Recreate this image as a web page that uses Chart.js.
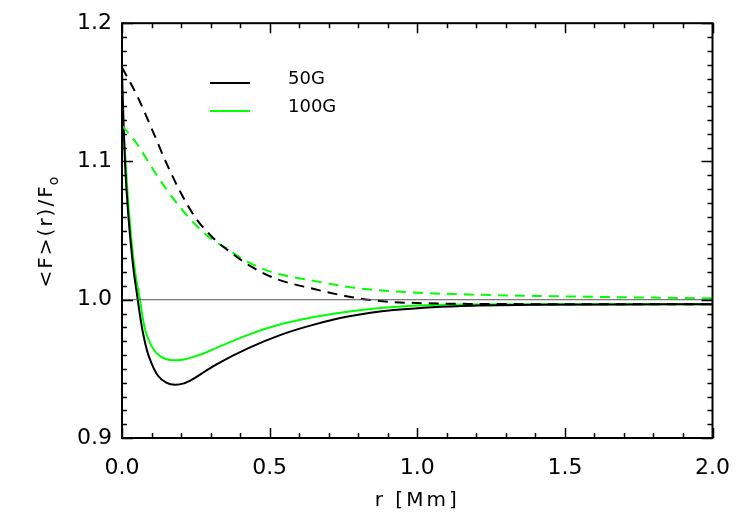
<!DOCTYPE html>
<html lang="en">
<head>
  <meta charset="UTF-8" />
  <title>&lt;F&gt;(r)/F0</title>
  <script src="https://cdn.jsdelivr.net/npm/chart.js"></script>
  <style>
    html, body { margin: 0; padding: 0; background: #fff; }
    #wrap { width: 747px; height: 524px; }
  </style>
</head>
<body>
<div id="wrap"><canvas id="grafico"></canvas></div>

<script>
  // valores: r [Mm] e <F>(r)/F0
  const r50 = [0, 0.005, 0.01, 0.02, 0.03, 0.04, 0.05, 0.06, 0.072, 0.085, 0.1, 0.122, 0.15, 0.18, 0.21, 0.24, 0.28, 0.32, 0.43, 0.54, 0.65, 0.77, 0.92, 1.15, 1.4, 1.7, 2.0];
  const f50 = [1.165, 1.13, 1.10, 1.065, 1.04, 1.02, 1.005, 0.99, 0.975, 0.963, 0.954, 0.945, 0.940, 0.9385, 0.9395, 0.9426, 0.948, 0.9533, 0.9652, 0.9748, 0.982, 0.988, 0.9925, 0.9955, 0.9963, 0.9966, 0.9967];

  const r100 = [0, 0.008, 0.019, 0.033, 0.046, 0.061, 0.07, 0.08, 0.1, 0.12, 0.15, 0.182, 0.21, 0.24, 0.28, 0.32, 0.43, 0.54, 0.65, 0.77, 0.92, 1.15, 1.5, 2.0];
  const f100 = [1.127, 1.113, 1.077, 1.041, 1.018, 1.0, 0.987, 0.977, 0.9665, 0.9607, 0.957, 0.9562, 0.9568, 0.9585, 0.9615, 0.9652, 0.9748, 0.9824, 0.9875, 0.9915, 0.9948, 0.9965, 0.9968, 0.9968];

  const r50Dash = [0, 0.05, 0.1, 0.15, 0.2, 0.25, 0.313, 0.37, 0.431, 0.521, 0.644, 0.79, 0.9, 1.04, 1.17, 1.5, 2.0];
  const f50Dash = [1.168, 1.148, 1.124, 1.099, 1.077, 1.059, 1.0438, 1.034, 1.0248, 1.0152, 1.0081, 1.0014, 0.9986, 0.9974, 0.997, 0.9968, 0.9968];

  const r100Dash = [0, 0.05, 0.1, 0.15, 0.2, 0.25, 0.3, 0.358, 0.408, 0.5, 0.633, 0.79, 0.946, 1.17, 1.45, 1.73, 2.0];
  const f100Dash = [1.126, 1.113, 1.096, 1.08, 1.066, 1.054, 1.0445, 1.0366, 1.0295, 1.0205, 1.0143, 1.0086, 1.0057, 1.0038, 1.0026, 1.0017, 1.001];

  const linhaRef = [1.0, 1.0];
  const rRef = [0, 2.0];

  const xTicks = [0, 0.5, 1.0, 1.5, 2.0];
  const yTicks = [0.9, 1.0, 1.1, 1.2];
  const xMinor = 0.1;
  const yMinor = 0.01;

  const legendaNomes = ['50G', '100G'];
  const legendaCores = ['#000000', '#00ff00'];

  function pontos(rs, fs) {
    return rs.map((r, i) => ({ x: r, y: fs[i] }));
  }

  const FONTE = '"DejaVu Sans", sans-serif';

  // moldura com marcas para dentro nos quatro lados, titulos e legenda
  const moldura = {
    id: 'moldura',
    afterDraw(chart) {
      const { ctx, chartArea: a, scales: { x, y } } = chart;
      ctx.save();
      ctx.strokeStyle = '#000';
      ctx.lineWidth = 2;
      ctx.strokeRect(a.left, a.top, a.right - a.left, a.bottom - a.top);

      ctx.lineWidth = 1.5;
      ctx.beginPath();
      const nx = Math.round((x.max - x.min) / xMinor);
      for (let i = 0; i <= nx; i++) {
        const v = x.min + i * xMinor;
        const px = Math.round(x.getPixelForValue(v)) + 0.5;
        const len = i % 5 === 0 ? 10 : 5;
        ctx.moveTo(px, a.bottom); ctx.lineTo(px, a.bottom - len);
        ctx.moveTo(px, a.top); ctx.lineTo(px, a.top + len);
      }
      const ny = Math.round((y.max - y.min) / yMinor);
      for (let i = 0; i <= ny; i++) {
        const v = y.min + i * yMinor;
        const py = Math.round(y.getPixelForValue(v)) + 0.5;
        const len = i % 10 === 0 ? 11 : 5;
        ctx.moveTo(a.left, py); ctx.lineTo(a.left + len, py);
        ctx.moveTo(a.right, py); ctx.lineTo(a.right - len, py);
      }
      ctx.stroke();

      // legenda
      ctx.lineWidth = 2;
      ctx.font = '18px ' + FONTE;
      ctx.textBaseline = 'middle';
      ctx.textAlign = 'left';
      legendaNomes.forEach((nome, i) => {
        const ly = 83 + i * 28;
        ctx.strokeStyle = legendaCores[i];
        ctx.beginPath();
        ctx.moveTo(210, ly); ctx.lineTo(250, ly);
        ctx.stroke();
        ctx.fillStyle = '#000';
        ctx.fillText(nome, 288, ly - 4);
      });

      // titulo do eixo x
      ctx.fillStyle = '#000';
      ctx.letterSpacing = '3px';
      ctx.font = '20px ' + FONTE;
      ctx.textAlign = 'center';
      ctx.textBaseline = 'alphabetic';
      ctx.fillText('r [Mm]', (a.left + a.right) / 2, 506);

      // titulo do eixo y com subscrito
      ctx.save();
      ctx.letterSpacing = '2px';
      ctx.translate(52, (a.top + a.bottom) / 2);
      ctx.rotate(-Math.PI / 2);
      ctx.textAlign = 'left';
      ctx.font = '20px ' + FONTE;
      const principal = '<F>(r)/F';
      const w1 = ctx.measureText(principal).width;
      ctx.font = '14px ' + FONTE;
      const w2 = ctx.measureText('o').width;
      const x0 = -(w1 + w2) / 2;
      ctx.font = '20px ' + FONTE;
      ctx.fillText(principal, x0, 0);
      ctx.font = '14px ' + FONTE;
      ctx.fillText('o', x0 + w1 - 1, 6);
      ctx.restore();

      ctx.restore();
    }
  };

  const linha = (rs, fs, cor, tracejado) => ({
    data: pontos(rs, fs),
    borderColor: cor,
    borderWidth: 2,
    borderDash: tracejado ? [10, 7] : [],
    pointRadius: 0,
    showLine: true,
    fill: false,
    cubicInterpolationMode: 'monotone'
  });

  new Chart(document.getElementById('grafico'), {
    type: 'scatter',
    data: {
      datasets: [
        { data: pontos(rRef, linhaRef), borderColor: '#555', borderWidth: 1, pointRadius: 0, showLine: true },
        linha(r50Dash, f50Dash, '#000000', true),
        linha(r100Dash, f100Dash, '#00ff00', true),
        linha(r50, f50, '#000000', false),
        linha(r100, f100, '#00ff00', false)
      ]
    },
    options: {
      responsive: true,
      maintainAspectRatio: false,
      animation: false,
      layout: { padding: { left: 0, top: 18, right: 31, bottom: 0 } },
      plugins: { legend: { display: false }, tooltip: { enabled: false } },
      scales: {
        x: {
          type: 'linear', min: 0, max: 2,
          grid: { display: false, drawTicks: false },
          border: { display: false },
          afterBuildTicks: s => { s.ticks = xTicks.map(v => ({ value: v })); },
          afterFit: s => { s.height = 86; },
          ticks: {
            padding: 17, color: '#000', maxRotation: 0,
            font: { family: 'DejaVu Sans', size: 22 },
            callback: v => Number(v).toFixed(1)
          }
        },
        y: {
          type: 'linear', min: 0.9, max: 1.2,
          grid: { display: false, drawTicks: false },
          border: { display: false },
          afterBuildTicks: s => { s.ticks = yTicks.map(v => ({ value: v })); },
          afterFit: s => { s.width = 122; },
          ticks: {
            padding: 10, color: '#000',
            font: { family: 'DejaVu Sans', size: 22 },
            callback: v => Number(v).toFixed(1)
          }
        }
      }
    },
    plugins: [moldura]
  });
</script>
</body>
</html>
